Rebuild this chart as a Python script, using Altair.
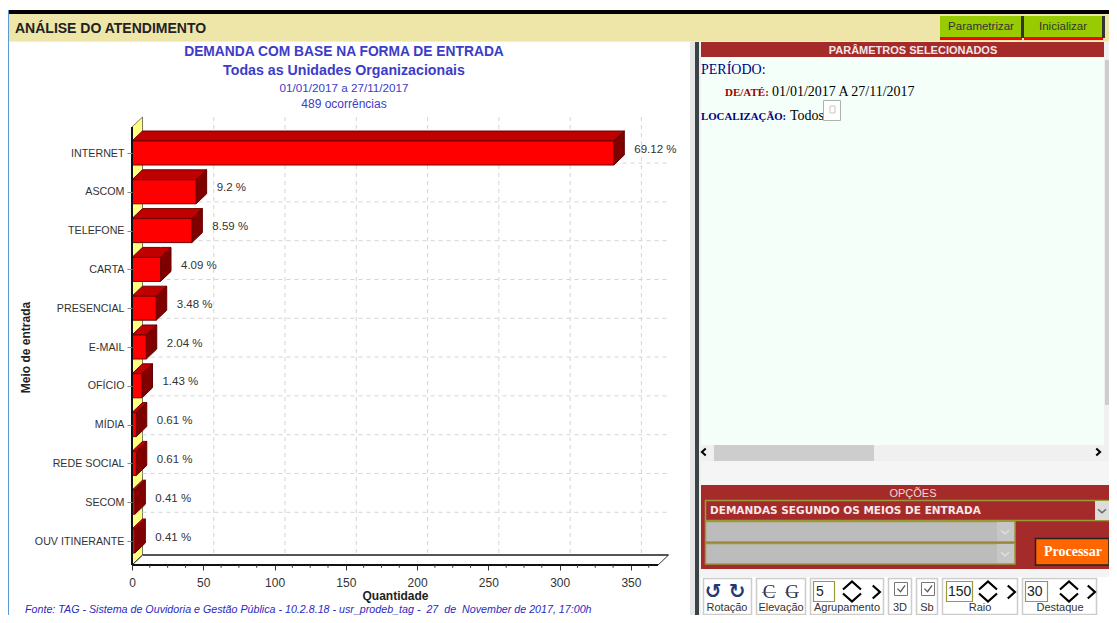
import altair as alt
import pandas as pd

# ---------- chart data ----------
categories = ["INTERNET", "ASCOM", "TELEFONE", "CARTA", "PRESENCIAL", "E-MAIL",
              "OFÍCIO", "MÍDIA", "REDE SOCIAL", "SECOM", "OUV ITINERANTE"]
values = [338, 45, 42, 20, 17, 10, 7, 3, 3, 2, 2]
percents = ["69.12 %", "9.2 %", "8.59 %", "4.09 %", "3.48 %", "2.04 %",
            "1.43 %", "0.61 %", "0.61 %", "0.41 %", "0.41 %"]
major_ticks = [0, 50, 100, 150, 200, 250, 300, 350]

SANS = "Liberation Sans"
SERIF = "Liberation Serif"
BLUE = "#3c3cc8"
BROWN = "#a52a2a"
OLIVE = "#9a9a3c"
VIEW_W = 1101
VIEW_H = 607

# ---------- scales ----------
X_MAX = 369
xscale = alt.Scale(domain=[0, X_MAX], range=[124, 650], nice=False, zero=False)
yscale = alt.Scale(domain=[0, 10], range=[145, 533], nice=False, zero=False)
DX = 10.5 * X_MAX / 526      # 3-D depth, in value units
DY = 10 / 38.8               # 3-D depth, in category units
H = 12 / 38.8                # half bar thickness
Y_TOP = -0.67
Y_BOT = 10.62

label_expr = "[" + ",".join(f"'{c}'" for c in categories) + "][datum.value]"
XAXIS = alt.Axis(
    values=major_ticks, grid=False, domain=False, orient="bottom", offset=557 - VIEW_H,
    tickSize=5, tickColor="#333333", labelFont=SANS, labelFontSize=12, labelColor="#333333",
    labelPadding=7, labelFlush=False, labelOverlap=False, title="Quantidade", titleFont=SANS,
    titleFontSize=12, titleFontWeight="bold", titleColor="#222222", titlePadding=2, zindex=1)
YAXIS = alt.Axis(
    values=list(range(len(categories))), labelExpr=label_expr, grid=False, domain=False,
    orient="left", offset=-124, tickSize=5, tickColor="#888888", labelFont=SANS,
    labelFontSize=10.7, labelColor="#333333", labelPadding=3, labelFlush=False, labelOverlap=False,
    title="Meio de entrada", titleFont=SANS, titleFontSize=12, titleFontWeight="bold",
    titleColor="#222222", titlePadding=2, zindex=1)


def X(f="x"):
    return alt.X(f"{f}:Q", scale=xscale, axis=XAXIS)


def Y(f="y"):
    return alt.Y(f"{f}:Q", scale=yscale, axis=YAXIS)


# ---------- bar geometry derived from the values ----------
front, top, side = [], [], []
for i, (c, v) in enumerate(zip(categories, values)):
    b = i - H
    front.append(dict(cat=i, x=0, x2=v, y=i - H, y2=i + H))
    for x in sorted({0, min(DX, v), max(DX, v), v + DX}):
        up = b - DY * min(x / DX, 1)
        lo = b if x <= v else b - DY * (x - v) / DX
        top.append(dict(cat=i, x=x, y=up, y2=lo))
    for x in (v, v + DX):
        up = b - DY * (x - v) / DX
        side.append(dict(cat=i, x=x, y=up, y2=up + 2 * H))
front_df = pd.DataFrame(front)
top_df = pd.DataFrame(top)
side_df = pd.DataFrame(side)

labels_df = pd.DataFrame({"x": [v + DX for v in values],
                          "y": list(range(len(values))),
                          "t": percents})

layers = []


# ---------- helpers for the page furniture (page coordinates) ----------
def rect(x1, y1, x2, y2, fill, stroke=None, sw=1):
    kw = dict(fill=fill, strokeWidth=sw if stroke else 0)
    if stroke:
        kw["stroke"] = stroke
    layers.append(alt.Chart().mark_rect(**kw).encode(
        x=alt.value(x1 - 8), x2=alt.value(x2 - 8),
        y=alt.value(y1 - 8), y2=alt.value(y2 - 8)))


def text(x, y, s, size=11, color="#333333", font=SANS, bold=False, align="left",
         italic=False):
    kw = dict(fontSize=size, color=color, font=font, align=align, baseline="middle")
    if bold:
        kw["fontWeight"] = "bold"
    if italic:
        kw["fontStyle"] = "italic"
    layers.append(alt.Chart().mark_text(**kw).encode(
        x=alt.value(x - 8), y=alt.value(y - 7), text=alt.value(s)))


UP = "M-1,0.45L0,-0.45L1,0.45"
DOWN = "M-1,-0.45L0,0.45L1,-0.45"
RIGHT = "M-0.5,-1L0.6,0L-0.5,1"
LEFT = "M0.5,-1L-0.6,0L0.5,1"
CHECK = "M-0.8,-0.1L-0.1,0.6L0.9,-0.8"


def glyph(x, y, path, w, color="#000000", sw=2.5):
    layers.append(alt.Chart().mark_point(shape=path, filled=False, stroke=color,
                                         strokeWidth=sw, opacity=1).encode(
        x=alt.value(x - 8), y=alt.value(y - 8), size=alt.value(w * w)))


# ---------- page furniture ----------
rect(8, 10, 9, 615, "#5b9bd5")
rect(9, 10, 1109, 14, "#000000")
rect(9, 14, 1109, 41, "#eee6a9")
rect(9, 41, 1109, 42, "#ececec")
text(15, 28, "ANÁLISE DO ATENDIMENTO", size=14, color="#222222", bold=True)

# header buttons
rect(940, 16, 1022, 40, "#99cc00")
rect(940, 37, 1022, 40, "#ff0000")
rect(1021, 16, 1024, 38, "#333333")
rect(1024, 16, 1103, 40, "#99cc00")
rect(1024, 37, 1103, 40, "#ff0000")
rect(1102, 16, 1105, 38, "#333333")
text(981, 26, "Parametrizar", size=11.5, align="center")
text(1063, 26, "Inicializar", size=11.5, align="center")

# divider
rect(690, 42, 695, 615, "#e6e6e6")
rect(695, 42, 699, 615, "#3a4448")
rect(699, 42, 701, 615, "#f0f0f0")

# right panel
rect(701, 42, 1104, 57, BROWN)
text(913, 50, "PARÂMETROS SELECIONADOS", size=11, color="#f4e6e6", bold=True, align="center")
rect(701, 57, 1105, 445, "#f5fffa")
rect(1104, 42, 1109, 461, "#f0f0f0")
rect(1105, 60, 1109, 405, "#cdcdcd")
rect(701, 445, 1104, 461, "#f0f0f0")
rect(714, 445, 874, 461, "#cdcdcd")
glyph(704, 452, LEFT, 7, sw=2)
glyph(1098, 452, RIGHT, 7, sw=2)
rect(701, 461, 1109, 485, "#f5f5f5")

text(701, 69, "PERÍODO:", size=14, color="#000080", font=SERIF)
text(725, 92, "DE/ATÉ:", size=11, color="#a00000", font=SERIF, bold=True)
text(772, 91, "01/01/2017 A 27/11/2017", size=14, color="#000000", font=SERIF)
text(701, 116, "LOCALIZAÇÃO:", size=10.8, color="#000080", font=SERIF, bold=True)
text(790, 115, "Todos", size=14, color="#000000", font=SERIF)
rect(823.5, 100.5, 840.5, 120.5, "#ffffff", "#b0b0b0")
rect(830, 106, 835, 113, "#ffffff", "#c8c8c8")

# options panel
rect(701, 485, 1109, 569, BROWN)
text(913, 493, "OPÇÕES", size=11, color="#f0d8d8", align="center")
rect(705.5, 500.5, 1109, 520.5, BROWN, OLIVE, 1.5)
text(710, 510, "DEMANDAS SEGUNDO OS MEIOS DE ENTRADA", size=10.5, color="#f8e8e8",
     font="DejaVu Sans", bold=True)
rect(1095, 501, 1109, 520, "#dcdcdc")
glyph(1102, 511, DOWN, 8, color="#666666", sw=1.5)
rect(705.5, 521.5, 1015, 542, "#bcbcbc", OLIVE, 1.5)
rect(705.5, 543.5, 1015, 564, "#bcbcbc", OLIVE, 1.5)
rect(997, 522, 1014, 541, "#c6c6c6")
rect(997, 544, 1014, 563, "#c6c6c6")
glyph(1005, 532, DOWN, 8, color="#e0e0e0", sw=1.5)
glyph(1005, 554, DOWN, 8, color="#e0e0e0", sw=1.5)
rect(1035.5, 538.5, 1109, 565, "#ff6600", "#222222", 1.5)
text(1073, 551, "Processar", size=14, color="#ffffff", font=SERIF, bold=True, align="center")

# toolbar
rect(701, 569, 1109, 577, "#f4f4f4")
BOX = "#cccccc"
for x1, x2, cx, lab in [(703, 751, 727, "Rotação"), (756, 805, 781, "Elevação"),
                        (810, 883, 847, "Agrupamento"), (888, 911, 900, "3D"),
                        (916, 937, 927, "Sb"), (942, 1017, 980, "Raio"),
                        (1022, 1096, 1060, "Destaque")]:
    rect(x1 + .5, 578.5, x2 + .5, 614.5, "#ffffff", BOX, 1.5)
    text(cx, 607, lab, size=11, align="center")
text(713, 591, "↺", size=20, color="#1f3a7a", font="DejaVu Sans", bold=True, align="center")
text(737, 591, "↻", size=20, color="#1f3a7a", font="DejaVu Sans", bold=True, align="center")
text(769, 591, "C", size=19, color="#28305c", font=SERIF, align="center")
text(792, 591, "G", size=19, color="#28305c", font=SERIF, align="center")
rect(762, 592, 776, 592.7, "#555555")
rect(785, 592, 799, 592.7, "#555555")
for x1, x2, s, tx, cx, ax in [(813, 834, "5", 816, 852, 876),
                              (946, 972, "150", 948, 988, 1011),
                              (1025, 1047, "30", 1027, 1069, 1091)]:
    rect(x1 + .5, 581.5, x2 + .5, 601.5, "#ffffff", OLIVE, 1.2)
    text(tx, 591, s, size=14, color="#222222")
    glyph(cx, 585.5, UP, 18, sw=2.2)
    glyph(cx, 597.5, DOWN, 18, sw=2.2)
    glyph(ax, 592, RIGHT, 13, sw=2.2)
for x1 in (894, 921):
    rect(x1 + .5, 582.5, x1 + 13.5, 595.5, "#ffffff", "#777777")
    glyph(x1 + 7, 589, CHECK, 9, color="#555555", sw=1.2)

# chart titles
text(344, 51, "DEMANDA COM BASE NA FORMA DE ENTRADA", size=13.8, color=BLUE, bold=True, align="center")
text(344, 70, "Todas as Unidades Organizacionais", size=14.2, color=BLUE, bold=True, align="center")
text(344, 87, "01/01/2017 a 27/11/2017", size=11.7, color=BLUE, align="center")
text(344, 103, "489 ocorrências", size=12, color=BLUE, align="center")
text(25, 609, "Fonte: TAG - Sistema de Ouvidoria e Gestão Pública - 10.2.8.18 - usr_prodeb_tag -\u00a0\u00a027\u00a0\u00a0de\u00a0\u00a0November de 2017, 17:00h",
     size=10.7, color="#2a2ac0", italic=True)

# ---------- plot: wall, grid, floor ----------
wall = pd.DataFrame({"x": [0, DX], "y": [Y_TOP, Y_TOP - DY], "y2": [Y_BOT, Y_BOT - DY]})
layers.append(alt.Chart(wall).mark_area(orient="vertical", color="#ffff80", stroke="#222222",
                                        strokeWidth=0.6, opacity=1).encode(
    x=X(), y=Y(), y2="y2:Q"))

grid_v = pd.DataFrame({"x": [v + DX for v in major_ticks[1:]],
                       "y": Y_TOP - DY, "y2": Y_BOT - DY})
layers.append(alt.Chart(grid_v).mark_rule(color="#d4d4d4", strokeDash=[4, 4], strokeWidth=1).encode(
    x=X(), y=Y(), y2="y2:Q"))
grid_h = pd.DataFrame({"y": [i + 0.26 for i in range(10)], "x": DX, "x2": X_MAX + DX})
layers.append(alt.Chart(grid_h).mark_rule(color="#d4d4d4", strokeDash=[4, 4], strokeWidth=1).encode(
    y=Y(), x=X(), x2="x2:Q"))

floor_lines = [
    dict(x=DX, x2=X_MAX + DX, y=Y_BOT - DY, y2=Y_BOT - DY, c="#555555", w=2),
    dict(x=X_MAX, x2=X_MAX + DX, y=Y_BOT, y2=Y_BOT - DY, c="#333333", w=1),
    dict(x=0, x2=DX, y=Y_BOT, y2=Y_BOT - DY, c="#333333", w=1),
]
for r in floor_lines:
    layers.append(alt.Chart(pd.DataFrame([r])).mark_rule(color=r["c"], strokeWidth=r["w"]).encode(
        x=X(), x2="x2:Q", y=Y(), y2="y2:Q"))

# ---------- bars ----------
layers.append(alt.Chart(top_df).mark_area(orient="vertical", color="#c00000", stroke="#700000",
                                          strokeWidth=1, opacity=1).encode(
    x=X(), y=Y(), y2="y2:Q", detail="cat:N"))
layers.append(alt.Chart(side_df).mark_area(orient="vertical", color="#800000", stroke="#600000",
                                           strokeWidth=1, opacity=1).encode(
    x=X(), y=Y(), y2="y2:Q", detail="cat:N"))
layers.append(alt.Chart(front_df).mark_rect(fill="#ff0000", stroke="#700000", strokeWidth=1).encode(
    x=X(), x2="x2:Q", y=Y(), y2="y2:Q"))

axis_lines = pd.DataFrame([dict(x=0, x2=X_MAX, y=Y_BOT, y2=Y_BOT),
                           dict(x=0, x2=0, y=Y_TOP, y2=Y_BOT)])
layers.append(alt.Chart(axis_lines).mark_rule(color="#111111", strokeWidth=2).encode(
    x=X(), x2="x2:Q", y=Y(), y2="y2:Q"))

minor = pd.DataFrame({"x": [12.5 * k for k in range(1, 30) if k % 4]})
minor["y"] = Y_BOT
minor["y2"] = Y_BOT + 0.07
layers.append(alt.Chart(minor).mark_rule(color="#333333", strokeWidth=1).encode(
    x=X(), y=Y(), y2="y2:Q"))

layers.append(alt.Chart(labels_df).mark_text(
    align="left", baseline="middle", dx=10, dy=-3.5, font=SANS, fontSize=11.5, color="#333333").encode(
    x=X(), y=Y(), text="t:N"))

chart = alt.layer(*layers).properties(
    width=VIEW_W, height=VIEW_H, padding=0,
    autosize=alt.AutoSizeParams(type="none"), background="#ffffff",
).configure_view(strokeWidth=0)

chart.save("out.html", embed_options={"renderer": "svg", "actions": False})
